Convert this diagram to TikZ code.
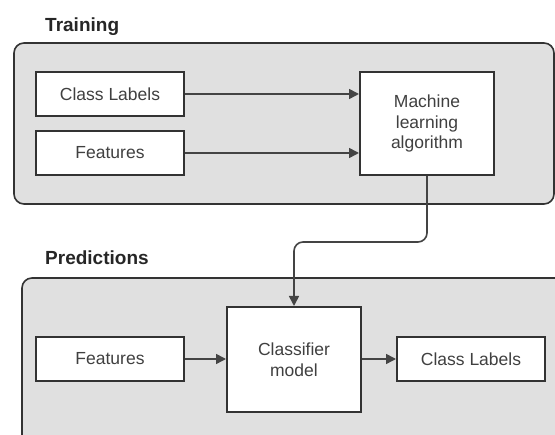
\documentclass[tikz,border=0pt]{standalone}
\usepackage{fontspec}
\setmainfont{Liberation Sans}
\usetikzlibrary{arrows.meta}
\definecolor{panelfill}{HTML}{E0E0E0}
\definecolor{edgecol}{HTML}{333333}
\definecolor{txtcol}{HTML}{404040}
\definecolor{linecol}{HTML}{444444}
\tikzset{
  panel/.style={draw=edgecol, fill=panelfill, line width=1.6pt, rounded corners=10pt},
  boxnode/.style={draw=edgecol, fill=white, line width=2pt, text=txtcol,
    font=\fontsize{17.5}{20.5}\selectfont, align=center, inner sep=0pt},
  wide/.style={boxnode, minimum width=148pt, minimum height=44pt},
  tall/.style={boxnode, minimum width=134pt},
  conn/.style={draw=linecol, line width=1.6pt, -{Triangle[length=10pt,width=10pt]}},
  title/.style={font=\bfseries\fontsize{19}{22}\selectfont, text=black!85, anchor=base west, inner sep=0pt}
}
\begin{document}
\begin{tikzpicture}[x=1pt,y=-1pt]
\useasboundingbox (0,0) rectangle (555,435);
\clip (0,0) rectangle (555,435);
\fill[white] (0,0) rectangle (555,435);
% panels
\draw[panel] (14,43) rectangle (554,204);
\draw[panel] (22,278) rectangle (575,455);
% titles
\node[title] (ttrain) at (45,32) {Training};
\node[title] (tpred) at (45,265) {Predictions};
% training nodes
\node[wide] (cl1) at (110,94) {Class Labels};
\node[wide] (f1) at (110,153) {Features};
\node[tall, minimum height=103pt] (ml) at (427,123.5) {Machine\\learning\\algorithm};
% prediction nodes
\node[wide] (f2) at (110,359) {Features};
\node[tall, minimum height=105pt] (cm) at (294,359.5) {Classifier\\model};
\node[wide] (cl2) at (471,359) {Class Labels};
% connectors
\draw[conn] (cl1.east) -- (cl1.east -| ml.west);
\draw[conn] (f1.east) -- (f1.east -| ml.west);
\coordinate (bend) at (427,242);
\draw[conn, rounded corners=9pt] (ml.south) -- (bend) -| (cm.north);
\draw[conn] (f2.east) -- (f2.east -| cm.west);
\draw[conn] (cm.east |- cl2.west) -- (cl2.west);
\end{tikzpicture}
\end{document}
